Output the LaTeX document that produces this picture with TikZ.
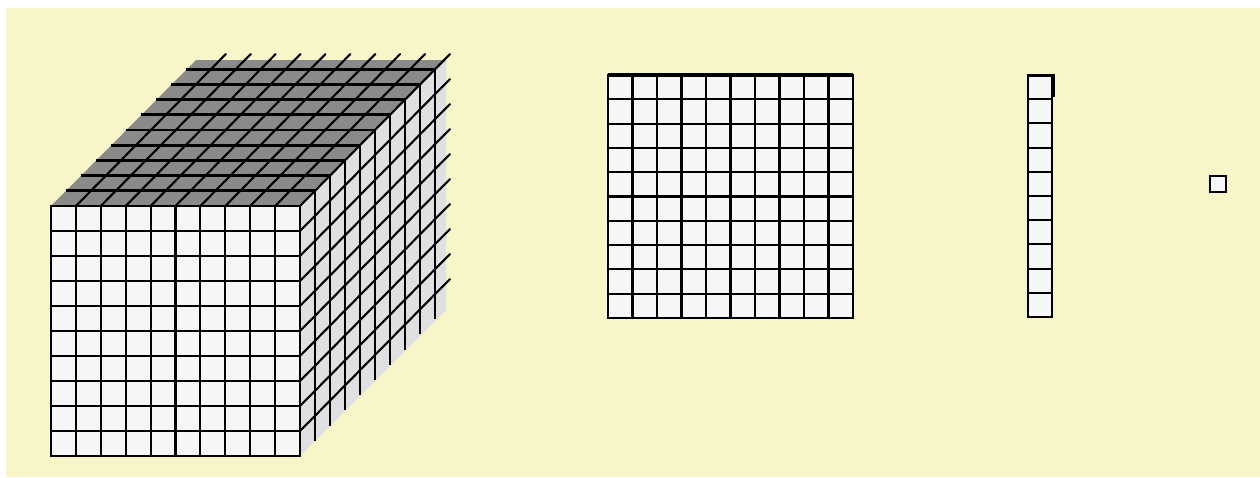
\documentclass[tikz,border=0pt]{standalone}
\usepackage{xcolor}
\definecolor{paper}{HTML}{F8F5C8}
\definecolor{top-gray}{HTML}{8A8A8A}
\definecolor{side-gray}{HTML}{E0E0E2}
\definecolor{cell-bg}{HTML}{F6F6F6}

\begin{document}
\begin{tikzpicture}[x=1pt, y=-1pt,
        gridline/.style={line width=2.1pt, line cap=round},
        slabline/.style={line width=2.8pt}]
      \useasboundingbox (0,0) rectangle (1260,477);
      \fill[white] (0,0) rectangle (1260,477);
      \fill[paper] (6,8) rectangle (1260,477);
      % thousand cube
      \fill[side-gray] (300,206) -- (446,60) -- (446,310) -- (300,456) -- cycle;
      \fill[top-gray] (51,206) -- (196,60) -- (446,60) -- (300,206) -- cycle;
      \foreach \k in {1,...,9} {
        \draw[slabline] ({51+15*\k},{206-15.2*\k}) -- ({300+15*\k},{206-15.2*\k});
        \draw[slabline] ({300+15*\k},{206-15.2*\k}) -- ({300+15*\k},{456-15.2*\k});
      }
      \foreach \i in {1,...,10}
        \draw[gridline] ({51+24.9*\i},206) -- ++(150,-152);
      \foreach \j in {1,...,9}
        \draw[gridline] (300,{206+25*\j}) -- ++(150,-152);
      \filldraw[fill=cell-bg, gridline] (51,206) rectangle (300,456);
      \foreach \i in {1,...,9} {
        \draw[gridline] ({51+24.9*\i},206) -- ({51+24.9*\i},456);
        \draw[gridline] (51,{206+25*\i}) -- (300,{206+25*\i});
      }
      % hundred flat
      \filldraw[fill=cell-bg, gridline] (608,75) rectangle (853,318);
      \foreach \i in {1,...,9} {
        \draw[gridline] ({608+24.5*\i},75) -- ({608+24.5*\i},318);
        \draw[gridline] (608,{75+24.3*\i}) -- (853,{75+24.3*\i});
      }
      \draw[line width=3.5pt] (608,75) -- (853,75);
      % ten rod
      \filldraw[fill=cell-bg, gridline] (1028,75) rectangle (1052,317);
      \foreach \j in {1,...,9}
        \draw[gridline] (1028,{75+24.2*\j}) -- (1052,{75+24.2*\j});
      \draw[line width=3pt] (1028,75) -- (1053,75) -- (1053,97);
      % unit
      \filldraw[fill=cell-bg, gridline] (1210,176) rectangle (1226,192);
    \end{tikzpicture}
\end{document}
